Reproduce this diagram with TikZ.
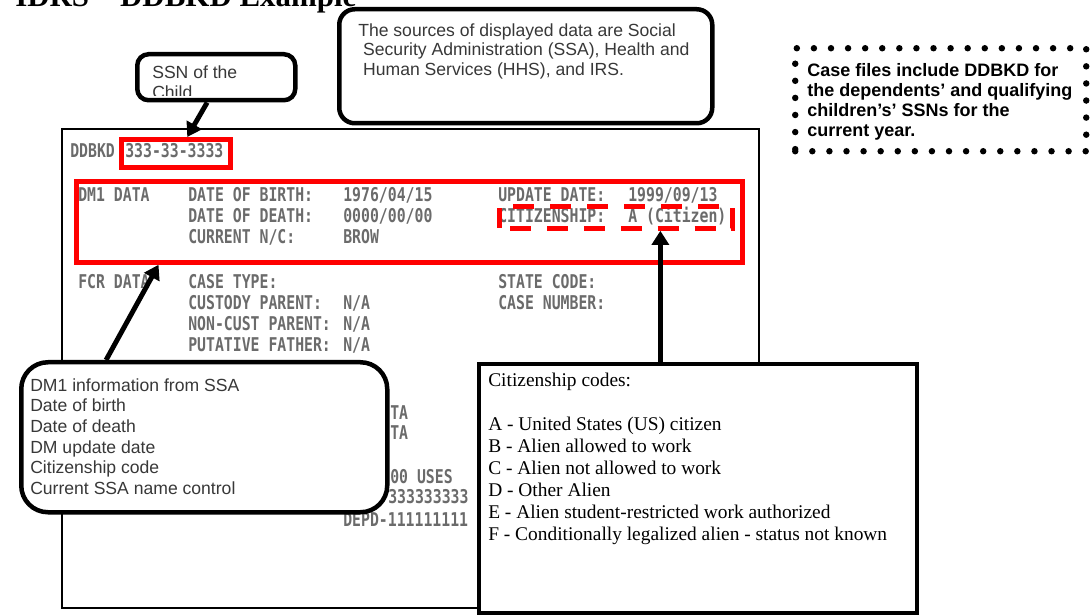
\documentclass[tikz,border=0pt]{standalone}
\usepackage{fontspec}
\setmainfont{Liberation Serif}
\setsansfont{Liberation Sans}
\newfontfamily\scrfont[FakeStretch=0.78]{DejaVu Sans Mono Bold}
\usetikzlibrary{arrows.meta,calc}

\def\px{0.025cm}

\tikzset{
  scr/.style={anchor=west, inner sep=0pt, font=\scrfont\fontsize{13.5}{15}\selectfont,
    text=black!58, text height=9.8pt, text depth=0pt},
  redbox/.style={draw=red, line width=3.4pt, anchor=north west, inner sep=0pt},
  callout/.style={draw, line width=3.2pt, fill=white, anchor=north west, inner sep=0pt},
  calltext/.style={anchor=north west, inner sep=0pt, align=left,
    font=\sffamily\fontsize{12.5}{14.7}\selectfont, text=black!78},
  callarrow/.style={line width=3.5pt, -{Triangle[width=12pt,length=10pt]}}
}

\begin{document}
\begin{tikzpicture}[x=0.025cm,y=-0.025cm]
    \useasboundingbox (0,0) rectangle (1090,615);
    \clip (0,0) rectangle (1090,615);

    % title
    \node[anchor=base west, inner sep=0pt, font=\bfseries\fontsize{22}{26}\selectfont]
        (title) at (15,7) {IDRS – DDBKD Example};

    % screen
    \node[draw, line width=1.1pt, anchor=north west, inner sep=0pt,
        minimum width=697*\px, minimum height=479*\px] (screen) at (61,128) {};

    \node[scr] (ddbkd) at (70,151) {DDBKD};
    \node[scr] (ssn) at (125,151) {333-33-3333};

    \node[scr] (dmdata) at (78,195) {DM1 DATA};
    \node[scr] (dob) at (188,195) {DATE OF BIRTH:};
    \node[scr] (dod) at (188,216) {DATE OF DEATH:};
    \node[scr] (curnc) at (188,237) {CURRENT N/C:};
    \node[scr] (dobval) at (343,195) {1976/04/15};
    \node[scr] (dodval) at (343,216) {0000/00/00};
    \node[scr] (ncval) at (343,237) {BROW};
    \node[scr] (upd) at (498,195) {UPDATE DATE:};
    \node[scr] (cit) at (498,216) {CITIZENSHIP:};
    \node[scr] (updval) at (628,195) {1999/09/13};
    \node[scr] (citval) at (628,216) {A (Citizen)};

    \node[scr] (fcrdata) at (78,282) {FCR DATA};
    \node[scr] (casetype) at (188,282) {CASE TYPE:};
    \node[scr] (custody) at (188,303) {CUSTODY PARENT:};
    \node[scr] (noncust) at (188,324) {NON-CUST PARENT:};
    \node[scr] (putative) at (188,345) {PUTATIVE FATHER:};
    \node[scr] (custval) at (343,303) {N/A};
    \node[scr] (noncval) at (343,324) {N/A};
    \node[scr] (putval) at (343,345) {N/A};
    \node[scr] (state) at (498,282) {STATE CODE:};
    \node[scr] (casenum) at (498,303) {CASE NUMBER:};

    \node[scr] (ta1) at (390,413) {TA};
    \node[scr] (ta2) at (390,433) {TA};
    \node[scr] (uses) at (390,477) {00 USES};
    \node[scr] (ssnlist) at (388,497) {333333333};
    \node[scr] (depd) at (343,520) {DEPD-111111111};

    % red marks
    \node[redbox, minimum width=109*\px, minimum height=28*\px] (ssnred) at (119,137) {};
    \node[redbox, minimum width=666*\px, minimum height=81*\px] (dm1red) at (74,179) {};
    \node[redbox, dash pattern=on 14.9pt off 11.3pt, dash phase=18.4pt,
        minimum width=233*\px, minimum height=22*\px] (citred) at (497,204) {};

    % callouts
    \node[callout, rounded corners=8pt, minimum width=158*\px, minimum height=46*\px]
        (ssnbox) at (135,52) {};
    \begin{scope}
        \clip (ssnbox.north west) rectangle ($(ssnbox.south east)+(0,-7)$);
        \node[calltext] (ssntext) at (152,65) {SSN of the\\Child};
    \end{scope}

    \node[callout, rounded corners=11pt, minimum width=373*\px, minimum height=114*\px]
        (srcbox) at (337,7) {};
    \node[calltext, font=\sffamily\fontsize{12.5}{14.2}\selectfont] (srctext) at (358,23)
        {The sources of displayed data are Social\\
         \hspace*{3.5pt}Security Administration (SSA), Health and\\
         \hspace*{3.5pt}Human Services (HHS), and IRS.};

    \node[draw, line width=4.6pt, line cap=round, dash pattern=on 0pt off 12.15pt,
        anchor=north west, inner sep=0pt, minimum width=291*\px, minimum height=103*\px]
        (dotbox) at (792,45) {};
    \node[calltext, text=black, font=\sffamily\bfseries\fontsize{12.8}{14.2}\selectfont]
        (dottext) at (807,63)
        {Case files include DDBKD for\\the dependents’ and qualifying\\children’s’ SSNs for the\\current year.};

    \node[callout, rounded corners=19pt, minimum width=366*\px, minimum height=150*\px]
        (dm1box) at (19,360) {};
    \node[calltext] (dm1text) at (30,378)
        {DM1 information from SSA\\Date of birth\\Date of death\\DM update date\\Citizenship code\\Current SSA name control};

    \node[draw, line width=2.8pt, fill=white, anchor=north west, inner sep=0pt,
        minimum width=438*\px, minimum height=249*\px] (codebox) at (477,362) {};
    \node[anchor=north west, inner sep=0pt, align=left, font=\fontsize{13.8}{15.6}\selectfont]
        (codetext) at (488,373)
        {Citizenship codes:\\[15.6pt]
         A - United States (US) citizen\\
         B - Alien allowed to work\\
         C - Alien not allowed to work\\
         D - Other Alien\\
         E - Alien student-restricted work authorized\\
         F - Conditionally legalized alien - status not known};

    % arrows
    \draw[callarrow] ($(ssnbox.south west)!0.444!(ssnbox.south east)$)
        -- ($(ssnred.north west)!0.6!(ssnred.north east)$);
    \draw[callarrow] ($(dm1box.north west)!0.235!(dm1box.north east)$)
        -- ($(dm1red.south west)!0.126!(dm1red.south east)$);
    \coordinate (cittip) at ($(citred.south west)!0.687!(citred.south east)$);
    \draw[callarrow] (cittip |- codebox.north) -- (cittip);

\end{tikzpicture}
\end{document}
